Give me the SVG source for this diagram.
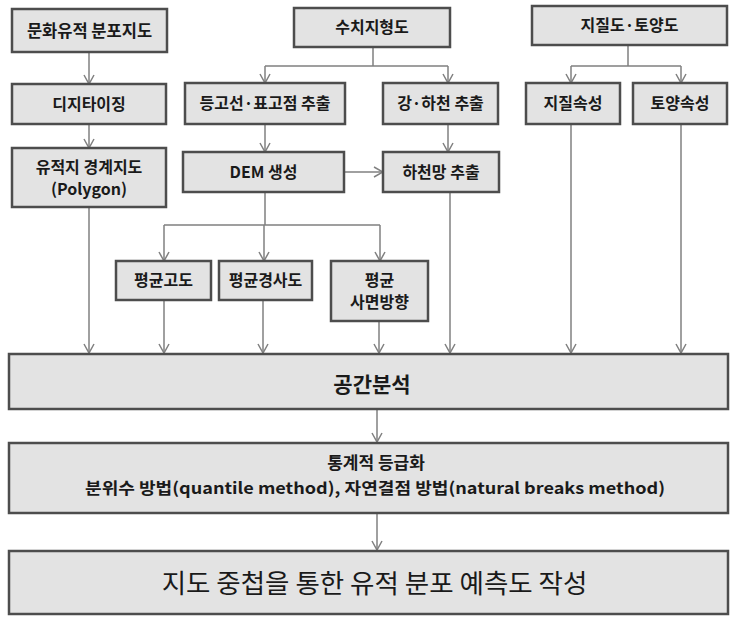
<svg xmlns="http://www.w3.org/2000/svg" width="733" height="618" viewBox="0 0 733 618">
<defs>
<style>
.box{fill:#e3e3e3;stroke:#4d4d4d;stroke-width:2.5}
.lbl{font-family:"Noto Sans CJK KR","Noto Sans",sans-serif;font-size:16px;font-weight:bold;fill:#1a1a1a;text-anchor:middle}
.big{font-family:"Noto Sans CJK KR","Noto Sans",sans-serif;font-size:26.5px;fill:#1a1a1a;text-anchor:middle}
.con{fill:none;stroke:#808080;stroke-width:1.5}
</style>
<marker id="arr" viewBox="0 0 10 12" refX="10" refY="6" markerWidth="10" markerHeight="12" markerUnits="userSpaceOnUse" orient="auto">
<path d="M1,1 L10,6 L1,11" fill="none" stroke="#808080" stroke-width="1.5"/>
</marker>
</defs>
<rect width="733" height="618" fill="#ffffff"/>
<g id="connectors" class="con">
<path d="M89,52 V84" marker-end="url(#arr)"/>
<path d="M89,124 V148" marker-end="url(#arr)"/>
<path d="M89,207 V353" marker-end="url(#arr)"/>
<path d="M373,47 V66 M265,66 H448"/>
<path d="M265,66 V83" marker-end="url(#arr)"/>
<path d="M448,66 V83" marker-end="url(#arr)"/>
<path d="M265,124 V152" marker-end="url(#arr)"/>
<path d="M448,124 V152" marker-end="url(#arr)"/>
<path d="M344,172 H383" marker-end="url(#arr)"/>
<path d="M265,192 V225 M164,225 H380"/>
<path d="M164,225 V261" marker-end="url(#arr)"/>
<path d="M264,225 V261" marker-end="url(#arr)"/>
<path d="M380,225 V261" marker-end="url(#arr)"/>
<path d="M164,300 V353" marker-end="url(#arr)"/>
<path d="M263,300 V353" marker-end="url(#arr)"/>
<path d="M379,321 V353" marker-end="url(#arr)"/>
<path d="M450,192 V353" marker-end="url(#arr)"/>
<path d="M628,45 V66 M571,66 H681"/>
<path d="M571,66 V83" marker-end="url(#arr)"/>
<path d="M681,66 V83" marker-end="url(#arr)"/>
<path d="M571,124 V353" marker-end="url(#arr)"/>
<path d="M681,124 V353" marker-end="url(#arr)"/>
<path d="M377,409 V442" marker-end="url(#arr)"/>
<path d="M377,513 V550" marker-end="url(#arr)"/>
</g>
<g id="n1"><rect class="box" x="12" y="9" width="155" height="43"/><text class="lbl" x="89.5" y="36.5" style="font-size:16.5px">문화유적 분포지도</text></g>
<g id="n2"><rect class="box" x="12" y="84" width="154" height="40"/><text class="lbl" x="89" y="109.5">디지타이징</text></g>
<g id="n3"><rect class="box" x="12" y="148" width="154" height="59"/><text class="lbl" x="89" y="173">유적지 경계지도</text><text class="lbl" x="89" y="195">(Polygon)</text></g>
<g id="n4"><rect class="box" x="294" y="8" width="156" height="39"/><text class="lbl" x="372" y="33">수치지형도</text></g>
<g id="n5"><rect class="box" x="185" y="83" width="160" height="41"/><text class="lbl" x="265" y="109">등고선·표고점 추출</text></g>
<g id="n6"><rect class="box" x="383" y="83" width="115" height="41"/><text class="lbl" x="440.5" y="109">강·하천 추출</text></g>
<g id="n7"><rect class="box" x="183" y="152" width="161" height="40"/><text class="lbl" x="263.5" y="177.5">DEM 생성</text></g>
<g id="n8"><rect class="box" x="383" y="152" width="116" height="40"/><text class="lbl" x="441" y="177.5">하천망 추출</text></g>
<g id="n9"><rect class="box" x="532" y="6" width="195" height="39"/><text class="lbl" x="629.5" y="31">지질도·토양도</text></g>
<g id="n10"><rect class="box" x="526" y="83" width="94" height="41"/><text class="lbl" x="573" y="109">지질속성</text></g>
<g id="n11"><rect class="box" x="633" y="83" width="94" height="41"/><text class="lbl" x="680" y="109">토양속성</text></g>
<g id="n12"><rect class="box" x="116" y="261" width="95" height="39"/><text class="lbl" x="163.5" y="286">평균고도</text></g>
<g id="n13"><rect class="box" x="219" y="261" width="93" height="39"/><text class="lbl" x="265.5" y="286">평균경사도</text></g>
<g id="n14"><rect class="box" x="331" y="261" width="97" height="60"/><text class="lbl" x="379.5" y="286">평균</text><text class="lbl" x="379.5" y="308">사면방향</text></g>
<g id="n15"><rect class="box" x="9" y="354" width="719" height="55"/><text class="lbl" x="372" y="392" style="font-size:21px">공간분석</text></g>
<g id="n16"><rect class="box" x="9" y="443" width="719" height="70"/><text class="lbl" x="376" y="469" style="font-size:17px">통계적 등급화</text><text class="lbl" x="375" y="494" style="font-size:16px" textLength="580" lengthAdjust="spacingAndGlyphs">분위수 방법(quantile method), 자연결점 방법(natural breaks method)</text></g>
<g id="n17"><rect class="box" x="9" y="551" width="719" height="63"/><text class="big" x="374.5" y="593">지도 중첩을 통한 유적 분포 예측도 작성</text></g>
</svg>
